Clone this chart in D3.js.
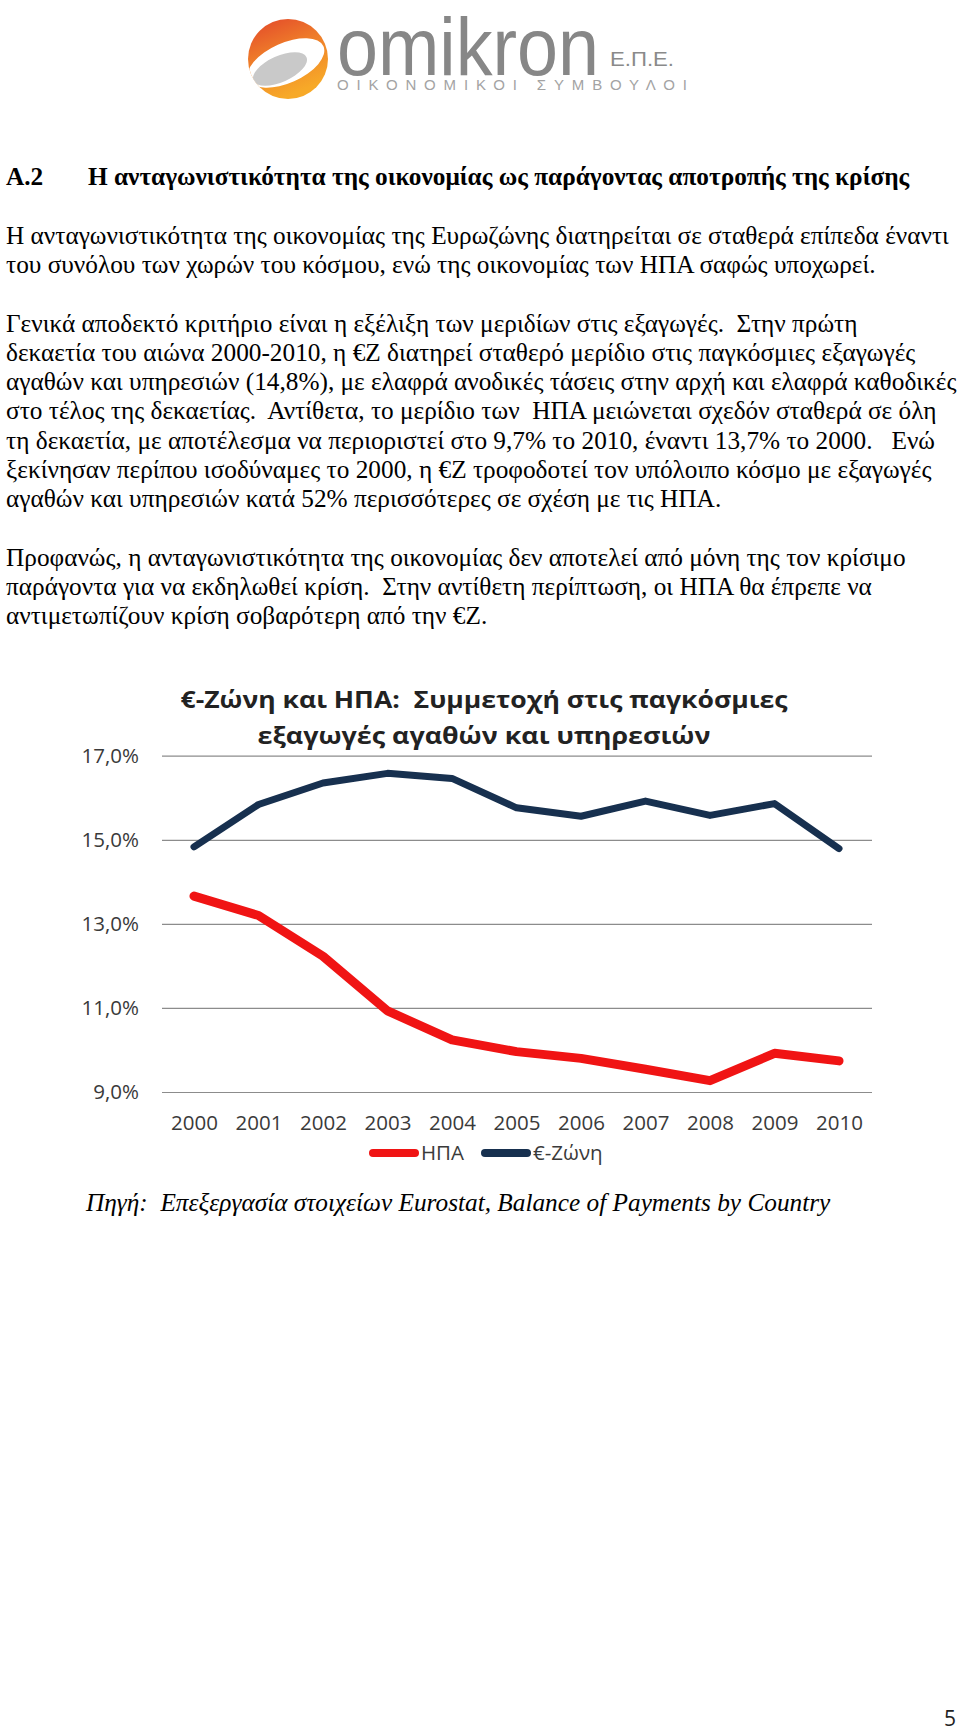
<!DOCTYPE html>
<html>
<head>
<meta charset="utf-8">
<script src="https://cdn.jsdelivr.net/npm/d3@7"></script>
<style>
  body { margin: 0; background: #fff; }
  svg { display: block; }
</style>
</head>
<body>
<script>
//data
const years = ['2000', '2001', '2002', '2003', '2004', '2005', '2006', '2007', '2008', '2009', '2010'];
const usShare = [13.66, 13.2, 12.23, 10.93, 10.24, 9.96, 9.8, 9.54, 9.27, 9.92, 9.74];
const ezShare = [14.83, 15.84, 16.35, 16.58, 16.46, 15.76, 15.56, 15.92, 15.58, 15.86, 14.79];
const yTicks = [9, 11, 13, 15, 17];
const seriesNames = ['ΗΠΑ', '€-Ζώνη'];
const seriesColors = ['#f01414', '#17304f'];

const chartTitle = ['€-Ζώνη και ΗΠΑ:  Συμμετοχή στις παγκόσμιες', 'εξαγωγές αγαθών και υπηρεσιών'];

const headingNo = 'A.2';
const headingText = 'Η ανταγωνιστικότητα της οικονομίας ως παράγοντας αποτροπής της κρίσης';

// [line index, text]
const bodyLines = [
    [0, 'Η ανταγωνιστικότητα της οικονομίας της Ευρωζώνης διατηρείται σε σταθερά επίπεδα έναντι'],
    [1, 'του συνόλου των χωρών του κόσμου, ενώ της οικονομίας των ΗΠΑ σαφώς υποχωρεί.'],
    [3, 'Γενικά αποδεκτό κριτήριο είναι η εξέλιξη των μεριδίων στις εξαγωγές.  Στην πρώτη'],
    [4, 'δεκαετία του αιώνα 2000-2010, η €Ζ διατηρεί σταθερό μερίδιο στις παγκόσμιες εξαγωγές'],
    [5, 'αγαθών και υπηρεσιών (14,8%), με ελαφρά ανοδικές τάσεις στην αρχή και ελαφρά καθοδικές'],
    [6, 'στο τέλος της δεκαετίας.  Αντίθετα, το μερίδιο των  ΗΠΑ μειώνεται σχεδόν σταθερά σε όλη'],
    [7, 'τη δεκαετία, με αποτέλεσμα να περιοριστεί στο 9,7% το 2010, έναντι 13,7% το 2000.   Ενώ'],
    [8, 'ξεκίνησαν περίπου ισοδύναμες το 2000, η €Ζ τροφοδοτεί τον υπόλοιπο κόσμο με εξαγωγές'],
    [9, 'αγαθών και υπηρεσιών κατά 52% περισσότερες σε σχέση με τις ΗΠΑ.'],
    [11, 'Προφανώς, η ανταγωνιστικότητα της οικονομίας δεν αποτελεί από μόνη της τον κρίσιμο'],
    [12, 'παράγοντα για να εκδηλωθεί κρίση.  Στην αντίθετη περίπτωση, οι ΗΠΑ θα έπρεπε να'],
    [13, 'αντιμετωπίζουν κρίση σοβαρότερη από την €Ζ.']
];

const sourceText = 'Πηγή:  Επεξεργασία στοιχείων Eurostat, Balance of Payments by Country';

//page
const svg = d3.select('body')
    .append('svg')
    .attr('width', 960)
    .attr('height', 1734);

// logo
const logo = svg.append('g').attr('class', 'logo');
const defs = svg.append('defs');
const grad = defs.append('linearGradient')
    .attr('id', 'logoGrad')
    .attr('x1', 0).attr('y1', 0).attr('x2', 0.4).attr('y2', 1);
grad.append('stop').attr('offset', '0%').attr('stop-color', '#e2452a');
grad.append('stop').attr('offset', '45%').attr('stop-color', '#ee7a2a');
grad.append('stop').attr('offset', '100%').attr('stop-color', '#f7a928');
defs.append('clipPath').attr('id', 'logoClip')
    .append('circle').attr('cx', 288).attr('cy', 59).attr('r', 40);

logo.append('circle')
    .attr('cx', 288).attr('cy', 59).attr('r', 40)
    .attr('fill', 'url(#logoGrad)');
const inner = logo.append('g').attr('clip-path', 'url(#logoClip)');
inner.append('ellipse')
    .attr('transform', 'translate(286,63) rotate(-24)')
    .attr('rx', 41).attr('ry', 20)
    .attr('fill', '#fff');
inner.append('ellipse')
    .attr('transform', 'translate(280,69) rotate(-24)')
    .attr('rx', 29).attr('ry', 13)
    .attr('fill', '#c9c9c9');

logo.append('text')
    .attr('x', 337).attr('y', 75)
    .attr('font-family', '"Liberation Sans", Arial, sans-serif')
    .attr('font-size', 82)
    .attr('fill', '#878787')
    .attr('textLength', 262)
    .attr('lengthAdjust', 'spacingAndGlyphs')
    .text('omikron');
logo.append('text')
    .attr('x', 610).attr('y', 66)
    .attr('font-family', '"Liberation Sans", Arial, sans-serif')
    .attr('font-size', 20)
    .attr('fill', '#8a8a8a')
    .attr('textLength', 64)
    .attr('lengthAdjust', 'spacingAndGlyphs')
    .text('Ε.Π.Ε.');
logo.append('text')
    .attr('x', 337).attr('y', 90)
    .attr('font-family', '"Liberation Sans", Arial, sans-serif')
    .attr('font-size', 15)
    .attr('fill', '#a3a3a3')
    .attr('textLength', 350)
    .attr('lengthAdjust', 'spacing')
    .text('ΟΙΚΟΝΟΜΙΚΟΙ ΣΥΜΒΟΥΛΟΙ');

// body text, measured then squeezed to the column
const serif = '"Liberation Serif", "Times New Roman", serif';
const lineStep = 29.25;
const firstBase = 244;

const body = svg.append('g')
    .attr('class', 'body-text')
    .attr('font-family', serif)
    .attr('font-size', 25)
    .attr('fill', '#000');

body.selectAll('text')
    .data(bodyLines)
    .enter()
    .append('text')
    .attr('x', 0)
    .attr('y', d => firstBase + d[0] * lineStep)
    .style('white-space', 'pre')
    .text(d => d[1]);

let widest = 0;
body.selectAll('text').each(function () {
    widest = Math.max(widest, this.getComputedTextLength());
});
const kx = 951 / widest;
body.attr('transform', `translate(6,0) scale(${kx},1)`);

const heading = svg.append('g')
    .attr('transform', `translate(6,0) scale(${kx},1)`)
    .attr('font-family', serif)
    .attr('font-size', 25)
    .attr('font-weight', 'bold');
heading.append('text').attr('x', 0).attr('y', 185).text(headingNo);
heading.append('text').attr('x', 82 / kx).attr('y', 185).text(headingText);

svg.append('g')
    .attr('transform', `translate(86,0) scale(${kx},1)`)
    .append('text')
    .attr('x', 0).attr('y', 1211)
    .attr('font-family', serif)
    .attr('font-size', 25)
    .attr('font-style', 'italic')
    .style('white-space', 'pre')
    .text(sourceText);

// chart
const sans = '"Open Sans", "Noto Sans", sans-serif';
const plot = { left: 162, right: 872, top: 755.7, bottom: 1092 };

const xScale = d3.scalePoint()
    .domain(years)
    .range([194, 839]);
const yScale = d3.scaleLinear()
    .domain([9, 17])
    .range([plot.bottom, plot.top]);

const chart = svg.append('g').attr('class', 'chart');

chart.selectAll('.chart-title')
    .data(chartTitle)
    .enter()
    .append('text')
    .attr('class', 'chart-title')
    .attr('x', 484)
    .attr('y', (d, i) => 708 + i * 36)
    .attr('text-anchor', 'middle')
    .attr('font-family', sans)
    .attr('font-weight', 'bold')
    .attr('font-size', 24)
    .attr('fill', '#222')
    .attr('textLength', (d, i) => i === 0 ? 607 : 453)
    .attr('lengthAdjust', 'spacingAndGlyphs')
    .style('white-space', 'pre')
    .text(d => d);

const formatPct = d => d3.format('.1f')(d).replace('.', ',') + '%';

const yAxis = d3.axisLeft(yScale)
    .tickValues(yTicks)
    .tickFormat(formatPct)
    .tickSizeInner(-(plot.right - plot.left))
    .tickSizeOuter(0)
    .tickPadding(23);

const yAxisDraw = chart.append('g')
    .attr('class', 'y-axis')
    .attr('transform', `translate(${plot.left},0)`)
    .call(yAxis);
yAxisDraw.select('.domain').remove();
yAxisDraw.selectAll('line').attr('stroke', '#8c8c8c').attr('stroke-width', 1.2);
yAxisDraw.selectAll('text')
    .attr('font-family', sans)
    .attr('font-size', 20.5)
    .attr('fill', '#3a3a3a');

const xAxis = d3.axisBottom(xScale)
    .tickSize(0)
    .tickPadding(23);
const xAxisDraw = chart.append('g')
    .attr('class', 'x-axis')
    .attr('transform', `translate(0,${plot.bottom})`)
    .call(xAxis);
xAxisDraw.select('.domain').remove();
xAxisDraw.selectAll('text')
    .attr('font-family', sans)
    .attr('font-size', 20.5)
    .attr('fill', '#3a3a3a');

const line = d3.line()
    .x((d, i) => xScale(years[i]))
    .y(d => yScale(d));

chart.append('path')
    .datum(usShare)
    .attr('d', line)
    .attr('fill', 'none')
    .attr('stroke', seriesColors[0])
    .attr('stroke-width', 9)
    .attr('stroke-linejoin', 'round')
    .attr('stroke-linecap', 'round');

chart.append('path')
    .datum(ezShare)
    .attr('d', line)
    .attr('fill', 'none')
    .attr('stroke', seriesColors[1])
    .attr('stroke-width', 7)
    .attr('stroke-linejoin', 'round')
    .attr('stroke-linecap', 'round');

// legend
const legend = chart.append('g').attr('class', 'legend');
const legendX = [370, 482];
const legendItem = legend.selectAll('g')
    .data(seriesNames)
    .enter()
    .append('g')
    .attr('transform', (d, i) => `translate(${legendX[i]},1153)`);
legendItem.append('line')
    .attr('x1', 3).attr('x2', 45)
    .attr('stroke', (d, i) => seriesColors[i])
    .attr('stroke-width', 8)
    .attr('stroke-linecap', 'round');
legendItem.append('text')
    .attr('x', 51)
    .attr('y', 7)
    .attr('font-family', sans)
    .attr('font-size', 20.5)
    .attr('fill', '#3a3a3a')
    .text(d => d);

// page number
svg.append('text')
    .attr('x', 956).attr('y', 1726)
    .attr('text-anchor', 'end')
    .attr('font-family', sans)
    .attr('font-size', 21)
    .attr('fill', '#222')
    .text('5');
</script>
</body>
</html>
